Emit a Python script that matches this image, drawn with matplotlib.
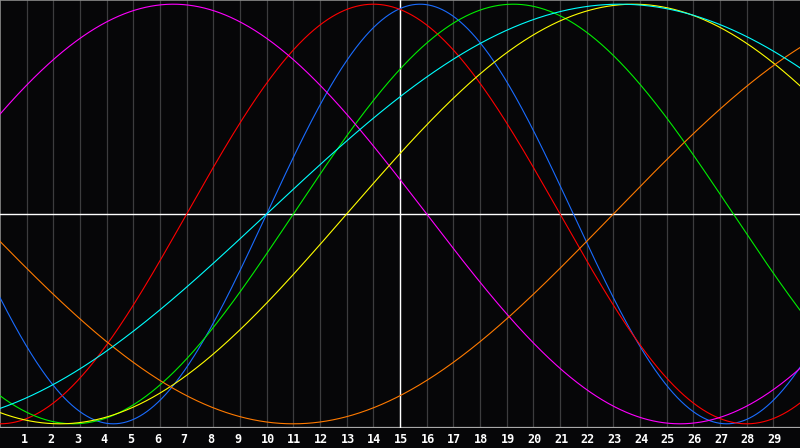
import numpy as np
import matplotlib
matplotlib.use('Agg')
import matplotlib.pyplot as plt

# cycles: period in days, day where the curve crosses zero going up, colour
NAMES = ["physical", "emotional", "intellectual", "intuitive", "aesthetic", "awareness", "spiritual"]
PERIODS = [23, 28, 33, 38, 43, 48, 53]
ZERO_UP = [10, 7, 11, -3, 13, 23, 10]
COLORS = ["#1a6cff", "#ff0000", "#00ee00", "#ff00ff", "#ffff00", "#ff7a00", "#00ffff"]
DAYS = list(range(1, 30))
TODAY = 15

BG = "#060608"
W, H = 800, 448
fig = plt.figure(figsize=(W / 100, H / 100), dpi=100, facecolor=BG)
ax = fig.add_axes([0, 20 / H, 1, 428 / H])
ax.set_facecolor(BG)
ax.set_xlim(0, 30)
ax.set_ylim(-1.02, 1.02)
ax.set_xticks([]); ax.set_yticks([])
for s in ax.spines.values(): s.set_visible(False)

for d in DAYS:
    ax.axvline(d, color="#3c3c3e", lw=0.9, zorder=1)

# border: top and left grey, bottom axis line lighter
ax.axhline(1.02, color="#8c8c8c", lw=1.2, zorder=2)
ax.axvline(0.01, color="#8c8c8c", lw=1.2, zorder=2)
ax.axhline(-1.02, color="#a8a8a8", lw=1.6, zorder=2)

ax.axhline(0, color="white", lw=1.0, zorder=2)
ax.axvline(TODAY, color="white", lw=1.0, zorder=2)

t = np.linspace(0, 30, 1200)
for p, z, c in zip(PERIODS, ZERO_UP, COLORS):
    ax.plot(t, np.sin(2 * np.pi * (t - z) / p), color=c, lw=0.8, zorder=3)

for d in DAYS:
    fig.text((d * 800 / 30 - 6) / W, 9 / H, str(d), color="white", fontsize=8.5,
             fontweight="bold", family="DejaVu Sans Mono", ha="left", va="center")

fig.savefig("out.png", dpi=100, facecolor=BG)
